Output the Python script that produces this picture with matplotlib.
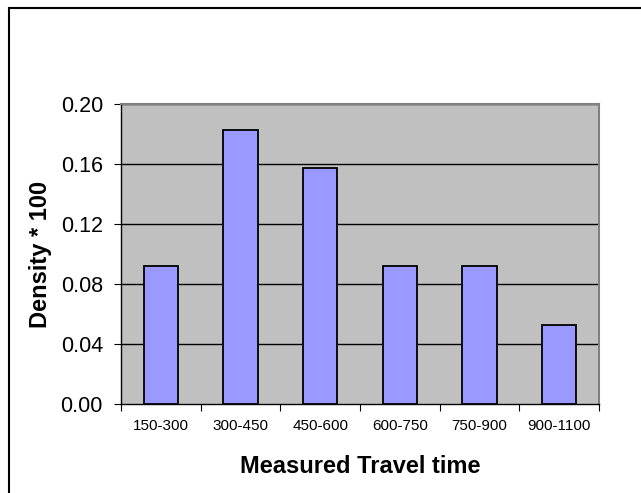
import matplotlib.pyplot as plt
import numpy as np
from matplotlib.patches import Rectangle

plt.rcParams['font.family'] = ['Liberation Sans', 'DejaVu Sans']

bins = ['150-300', '300-450', '450-600', '600-750', '750-900', '900-1100']
density = [0.092, 0.1825, 0.157, 0.092, 0.092, 0.0525]
yticks = [0.00, 0.04, 0.08, 0.12, 0.16, 0.20]

fig = plt.figure(figsize=(6.41, 4.93), dpi=100)
ax = fig.add_axes([121/641, 89/493, 478/641, 300/493])
ax.set_facecolor('#c0c0c0')

x = np.arange(len(bins))
ax.bar(x, density, width=0.43, color='#9999ff', edgecolor='black', linewidth=1.3, zorder=3)

for v in yticks[1:]:
    ax.axhline(v, color='black', linewidth=1, zorder=1)

ax.set_xlim(-0.5, len(bins) - 0.5)
ax.set_ylim(0, 0.2)
ax.set_yticks(yticks)
ax.set_yticklabels(['%.2f' % v for v in yticks], fontsize=15.5)
ax.set_xticks(np.arange(len(bins) + 1) - 0.5)
ax.set_xticklabels([])
ax.set_xticks(x, minor=True)
ax.set_xticklabels(bins, minor=True, fontsize=11)
ax.tick_params(axis='x', which='minor', length=0, pad=11)
ax.tick_params(axis='x', which='major', length=5, direction='out')
ax.tick_params(axis='y', length=5, direction='out', pad=8)

for s in ['top', 'right']:
    ax.spines[s].set_color('#808080')
    ax.spines[s].set_linewidth(1.5)
for s in ['left', 'bottom']:
    ax.spines[s].set_color('black')
    ax.spines[s].set_linewidth(1)

ax.set_xlabel('Measured Travel time', fontsize=17, fontweight='bold', labelpad=15.5)
ax.set_ylabel('Density * 100', fontsize=17, fontweight='bold', labelpad=6)

# chart border
fig.patches.append(Rectangle((9/641, -0.1), 1.2, (493 - 8)/493 + 0.1,
                             transform=fig.transFigure, fill=False,
                             edgecolor='black', linewidth=1.5))

fig.savefig('out.png', dpi=100)
